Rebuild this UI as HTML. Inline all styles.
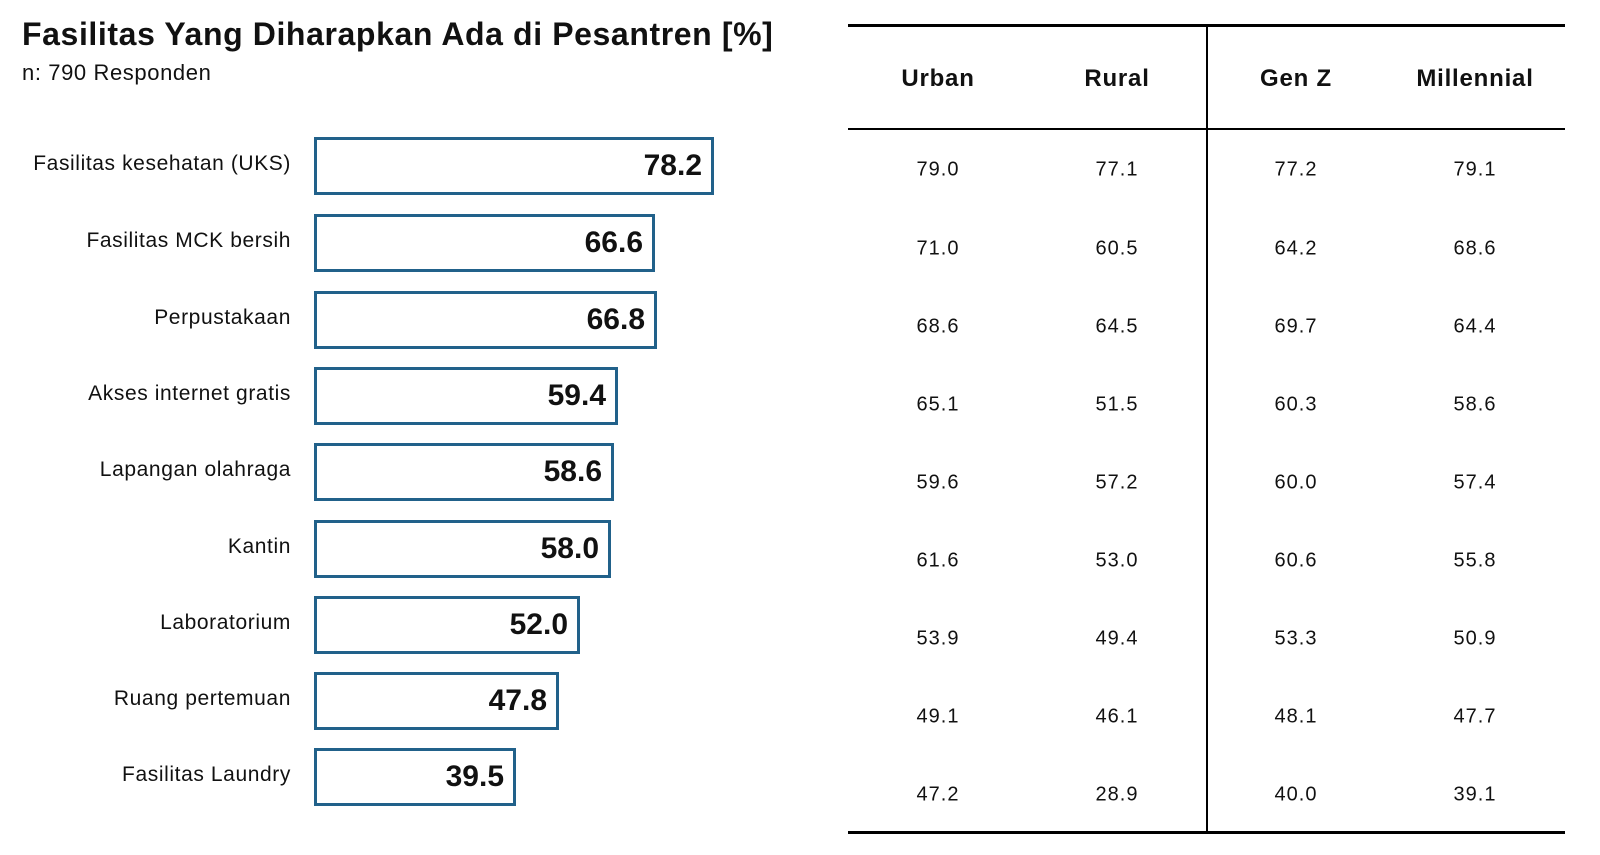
<!DOCTYPE html>
<html><head><meta charset="utf-8"><style>
body{margin:0;width:1600px;height:855px;background:#fff;position:relative;font-family:"Liberation Sans",sans-serif;color:#111;overflow:hidden}
.a{position:absolute;white-space:nowrap}
.t{left:22px;top:16px;font-size:32px;font-weight:bold;letter-spacing:0.6px}
.s{left:22px;top:60px;font-size:22px;letter-spacing:0.6px}
.lab{right:1309px;font-size:21px;letter-spacing:0.6px;transform:translateY(-50%)}
.bar{left:314px;height:52px;border:3px solid #21618a;box-sizing:content-box}
.val{font-size:30px;font-weight:bold;transform:translateY(-50%)}
.h{font-size:24px;font-weight:bold;letter-spacing:0.8px;transform:translate(-50%,-50%);top:79px}
.c{font-size:20px;letter-spacing:1px;transform:translate(-50%,-50%)}
.ln{background:#000;position:absolute}
</style></head><body>
<div class="a t">Fasilitas Yang Diharapkan Ada di Pesantren [%]</div>
<div class="a s">n: 790 Responden</div>
<div class="ln" style="left:848px;top:24px;width:717px;height:3px"></div>
<div class="ln" style="left:848px;top:128px;width:717px;height:2px"></div>
<div class="ln" style="left:848px;top:831px;width:717px;height:3px"></div>
<div class="ln" style="left:1206px;top:27px;width:2px;height:804px"></div>
<div class="a h" style="left:938px">Urban</div>
<div class="a h" style="left:1117px">Rural</div>
<div class="a h" style="left:1296px">Gen Z</div>
<div class="a h" style="left:1475px">Millennial</div>
<div id="rows"></div>
<script>
var d=[["Fasilitas kesehatan (UKS)",78.2,714,137,"79.0","77.1","77.2","79.1",170],
["Fasilitas MCK bersih",66.6,655,214,"71.0","60.5","64.2","68.6",249],
["Perpustakaan",66.8,657,291,"68.6","64.5","69.7","64.4",327],
["Akses internet gratis",59.4,618,367,"65.1","51.5","60.3","58.6",405],
["Lapangan olahraga",58.6,614,443,"59.6","57.2","60.0","57.4",483],
["Kantin",58.0,611,520,"61.6","53.0","60.6","55.8",561],
["Laboratorium",52.0,580,596,"53.9","49.4","53.3","50.9",639],
["Ruang pertemuan",47.8,559,672,"49.1","46.1","48.1","47.7",717],
["Fasilitas Laundry",39.5,516,748,"47.2","28.9","40.0","39.1",795]];
var h="",cx=[938,1117,1296,1475];
d.forEach(function(r){var top=r[3],mid=top+29;
h+='<div class="a lab" style="top:'+(mid-2)+'px">'+r[0]+'</div>';
h+='<div class="a bar" style="top:'+top+'px;width:'+(r[2]-314-6)+'px"></div>';
h+='<div class="a val" style="top:'+mid+'px;right:'+(1600-r[2]+12)+'px">'+r[1].toFixed(1)+'</div>';
for(var i=0;i<4;i++)h+='<div class="a c" style="left:'+cx[i]+'px;top:'+r[8]+'px">'+r[4+i]+'</div>';});
document.getElementById("rows").innerHTML=h;
</script>
</body></html>
